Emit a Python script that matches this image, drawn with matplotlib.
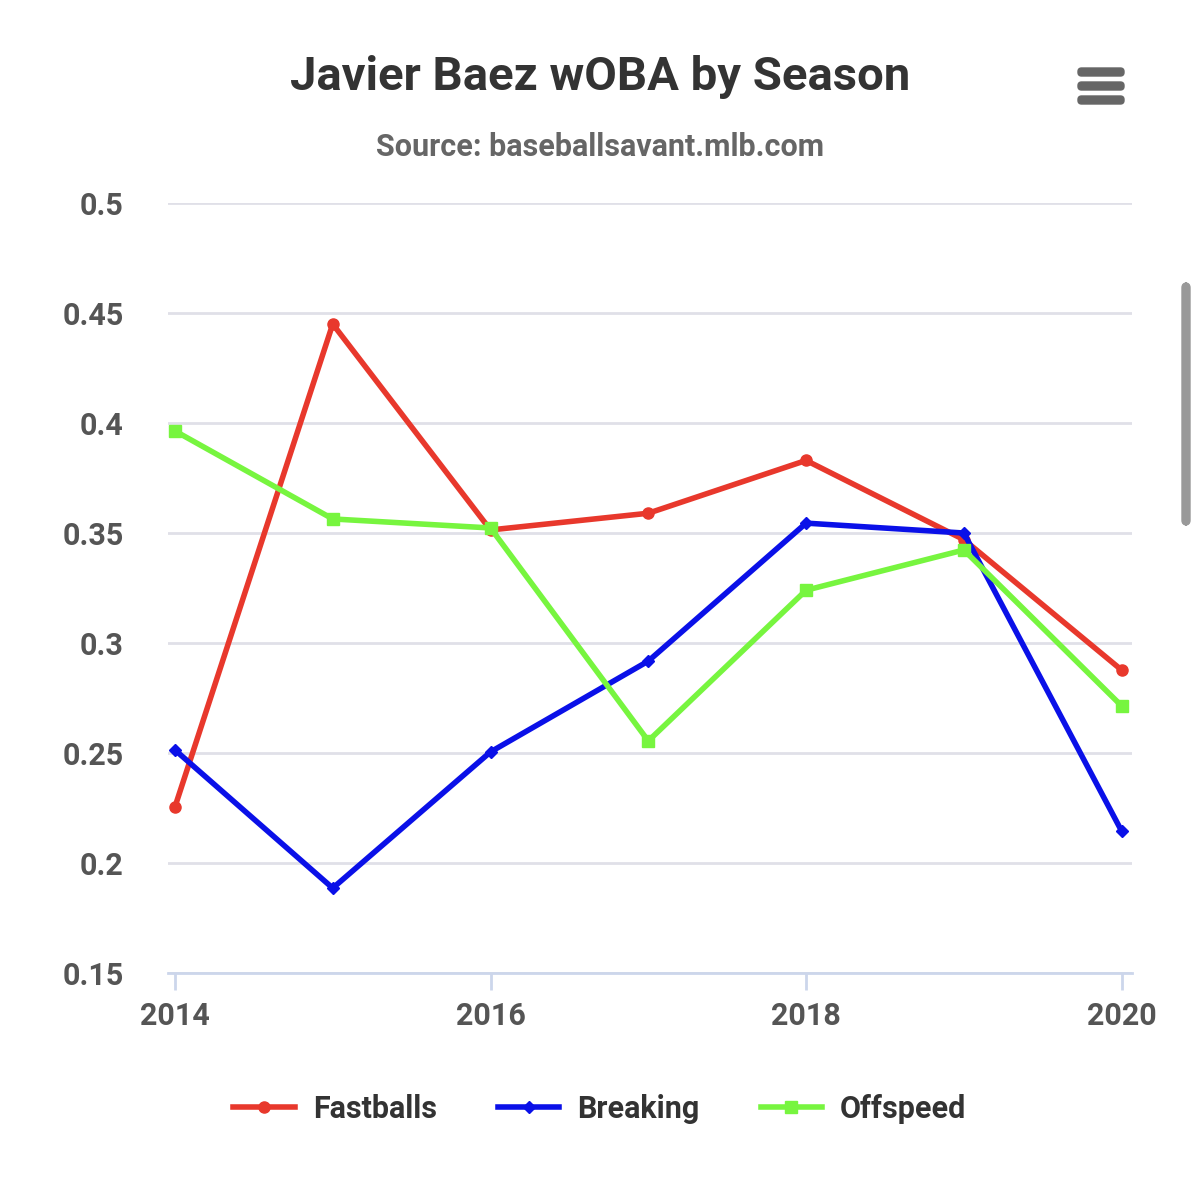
import matplotlib
matplotlib.use("Agg")
import matplotlib.pyplot as plt
from matplotlib.patches import FancyBboxPatch

years = [2014, 2015, 2016, 2017, 2018, 2019, 2020]
fastballs = [0.2255, 0.445, 0.3514, 0.359, 0.383, 0.347, 0.2877]
breaking = [0.2514, 0.1886, 0.2505, 0.2918, 0.3545, 0.350, 0.2145]
offspeed = [0.3964, 0.3564, 0.3523, 0.2555, 0.324, 0.3423, 0.2714]
yticks = [0.15, 0.2, 0.25, 0.3, 0.35, 0.4, 0.45, 0.5]
ylabels = ["0.15", "0.2", "0.25", "0.3", "0.35", "0.4", "0.45", "0.5"]
xticks = [2014, 2016, 2018, 2020]

plt.rcParams['font.family'] = ['Roboto', 'DejaVu Sans']
fig = plt.figure(figsize=(12, 11.77), dpi=100)
ax = fig.add_axes([0.14, 0.1733, 0.803, 0.6542])
ax.plot(years, fastballs, color='#e8382c', lw=4, marker='o', ms=8, label='Fastballs')
ax.plot(years, breaking, color='#0a10e8', lw=4, marker='D', ms=6, label='Breaking')
ax.plot(years, offspeed, color='#77f53f', lw=4, marker='s', ms=8, label='Offspeed')
ax.set_ylim(0.15, 0.5)
ax.set_xlim(2013.956, 2020.063)
ax.set_yticks(yticks)
ax.set_yticklabels(ylabels)
ax.set_xticks(xticks)
ax.grid(axis='y', color='#e0e0e8', lw=2)
ax.set_axisbelow(True)
for s in ['top', 'right', 'left']:
    ax.spines[s].set_visible(False)
ax.spines['bottom'].set_color('#ccd6eb')
ax.spines['bottom'].set_linewidth(2)
ax.tick_params(axis='y', length=0, pad=32, labelsize=22, labelcolor='#555555')
ax.tick_params(axis='x', length=12, width=2, color='#ccd6eb', labelsize=22, labelcolor='#555555', pad=8)
for t in ax.get_xticklabels() + ax.get_yticklabels():
    t.set_fontweight('bold')

fig.text(0.5, 0.935, "Javier Baez wOBA by Season", ha='center', va='center',
         fontsize=34, fontweight='bold', color='#333333')
fig.text(0.5, 0.875, "Source: baseballsavant.mlb.com", ha='center', va='center',
         fontsize=22, fontweight='bold', color='#666666')
fig.legend(loc='center', bbox_to_anchor=(0.5, 0.058), ncol=3, frameon=False,
           prop={'size': 22, 'weight': 'bold'}, handlelength=2.0, columnspacing=2.0,
           handletextpad=0.6, labelcolor='#333333')
for yy in [1 - 72/1177, 1 - 86/1177, 1 - 100/1177]:
    fig.patches.append(FancyBboxPatch((1078/1200, yy - 4/1177), 46/1200, 8/1177,
                                      boxstyle='round,pad=0,rounding_size=0.003',
                                      transform=fig.transFigure, color='#666666'))
fig.patches.append(FancyBboxPatch((1182/1200, 1 - 525/1177), 8/1200, 242/1177,
                                  boxstyle='round,pad=0,rounding_size=0.004',
                                  transform=fig.transFigure, color='#999999'))
fig.savefig('out.png', dpi=100)
